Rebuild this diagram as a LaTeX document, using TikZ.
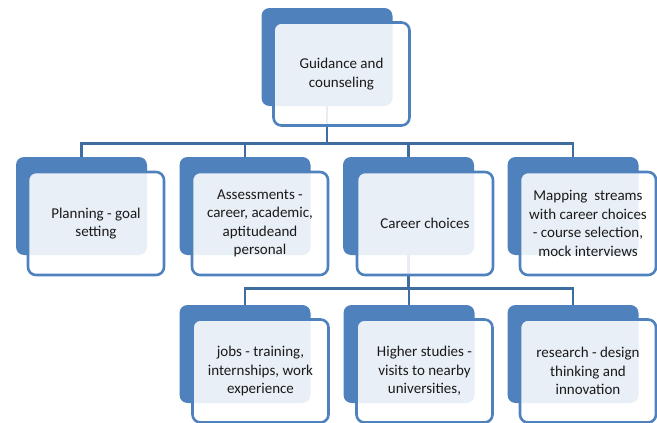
\documentclass[tikz,border=0pt]{standalone}
\usepackage{fontspec}
\setmainfont{Carlito}
\definecolor{backblue}{HTML}{4F81BD}
\definecolor{linkblue}{HTML}{3F6D9F}
\definecolor{txt}{HTML}{1A1A1A}
\begin{document}
\begin{tikzpicture}[x=1pt,y=-1pt,
  backbox/.style={rectangle, rounded corners=8pt, fill=backblue, draw=none,
    minimum width=131pt, minimum height=98pt, inner sep=0pt},
  frontbox/.style={rectangle, rounded corners=8pt, draw=backblue, line width=2.6pt,
    fill=white, fill opacity=0.88, text opacity=1, text=txt,
    minimum width=136pt, minimum height=103pt, inner sep=0pt, align=center,
    font=\fontsize{15}{18.5}\selectfont},
  link/.style={draw=linkblue, line width=2.6pt}]
\useasboundingbox (0,0) rectangle (657,423);
% back boxes
\node[backbox] (gb) at (327,57) {};
\node[backbox] (p1b) at (81.5,206) {};
\node[backbox] (p2b) at (245,206) {};
\node[backbox] (p3b) at (408.5,206) {};
\node[backbox] (p4b) at (573,206) {};
\node[backbox] (c1b) at (245,354) {};
\node[backbox] (c2b) at (409,354) {};
\node[backbox] (c3b) at (573,354) {};
% connectors
\draw[link] (gb.south) -- ++(0,37) -| (p1b.north);
\draw[link] (gb.south) -- ++(0,37) -| (p2b.north);
\draw[link] (gb.south) -- ++(0,37) -| (p3b.north);
\draw[link] (gb.south) -- ++(0,37) -| (p4b.north);
\draw[link] (p3b.south) -- ++(0,33) -| (c1b.north);
\draw[link] (p3b.south) -- ++(0,33) -| (c2b.north);
\draw[link] (p3b.south) -- ++(0,33) -| (c3b.north);
% front boxes
\node[frontbox] (g) at (341.5,74) {Guidance and\\counseling};
\node[frontbox] (p1) at (96,223.5) {Planning - goal\\setting};
\node[frontbox] (p2) at (260,223.5) {Assessments -\\career, academic,\\aptitudeand\\personal};
\node[frontbox] (p3) at (425,223.5) {Career choices};
\node[frontbox] (p4) at (588,223.5) {Mapping\ \ streams\\with career choices\\- course selection,\\mock interviews};
\node[frontbox] (c1) at (260.5,371) {jobs - training,\\internships, work\\experience};
\node[frontbox] (c2) at (424.5,371) {Higher studies -\\visits to nearby\\universities,};
\node[frontbox] (c3) at (588,371) {research - design\\thinking and\\innovation};
\end{tikzpicture}
\end{document}
